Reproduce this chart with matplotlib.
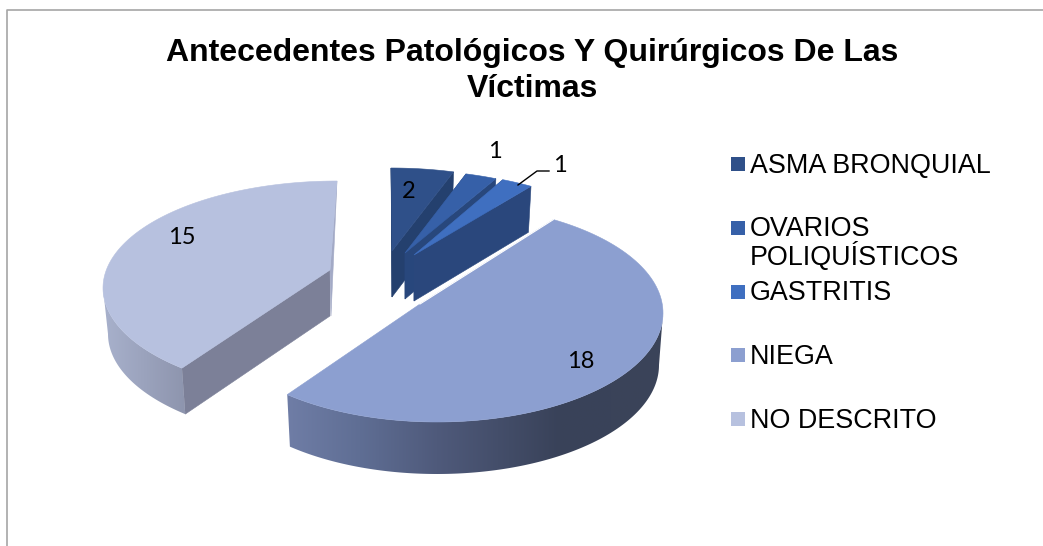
import numpy as np
import matplotlib
matplotlib.use("Agg")
import matplotlib.pyplot as plt
from matplotlib.patches import Polygon, Rectangle
from matplotlib.colors import to_rgb

categories = ["ASMA BRONQUIAL", "OVARIOS\nPOLIQUÍSTICOS", "GASTRITIS", "NIEGA", "NO DESCRITO"]
values = [2, 1, 1, 18, 15]
top_colors = ["#2f5089", "#3660a8", "#3f6fc0", "#8c9fd0", "#b7c1df"]
title = "Antecedentes Patológicos Y Quirúrgicos De Las\nVíctimas"

W, H = 1043, 546
fig = plt.figure(figsize=(W / 100, H / 100), dpi=100)
ax = fig.add_axes([0, 0, 1, 1])
ax.axis("off")

# chart frame (its right and bottom sides fall outside the crop)
ax.plot([7, 7, 1043], [546, 10, 10], color="#a6a6a6", lw=1.2)

# cumulative angles, clockwise from 12 o'clock, with the 3D view's foreshortening
total = sum(values)
edges = np.cumsum([0] + values) / total * 360
true_knots = [0, edges[3], edges[4], 360]
view_knots = [0, 31, 221.5, 360]
def view_angle(a):
    return np.interp(a, true_knots, view_knots)
def true_angle(t):
    return np.interp(t, view_knots, true_knots)

# per slice geometry of the exploded 3D view:
# ellipse cx, cy, rx, ry, apex x, y, wall height, rim shrink
geom = [
    (391, 275, 234, 107, 392, 251, 46, 5),
    (403.5, 277, 234, 107, 405, 253, 46, 5),
    (410.5, 278, 234, 107, 414, 255, 46, 5),
    (437, 313, 226, 109, 420, 304, 52, 4),
    (337, 288, 234, 107, 330, 270, 46, 5),
]
wall_flat = ["#24406e", "#28477c", "#2a477c", "#3a4358", "#7c8098"]

def arc(g, a0, a1, n=120, lower=False):
    cx, cy, rx, ry, _, _, h, s = g
    t = np.radians(np.linspace(view_angle(a0), view_angle(a1), n))
    if lower:
        return cx + (rx - s) * np.sin(t), cy + h - ry * np.cos(t)
    return cx + rx * np.sin(t), cy - ry * np.cos(t)

def rim_gradient(g, a0, a1, stops):
    xs, ys = arc(g, a0, a1, 160)
    xl, yl = arc(g, a0, a1, 160, lower=True)
    pts = list(zip(xs, ys)) + list(zip(xl[::-1], yl[::-1]))
    x0, x1 = min(min(xs), min(xl)), max(max(xs), max(xl))
    sx = [p[0] for p in stops]
    sc = np.array([to_rgb(p[1]) for p in stops])
    grid = np.linspace(x0, x1, 256)
    img = np.stack([np.interp(grid, sx, sc[:, k]) for k in range(3)], axis=-1)[None, :, :]
    y0, y1 = min(min(ys), min(yl)), max(max(ys), max(yl))
    clip = Polygon(pts, closed=True, fc="none", ec="none", transform=ax.transData)
    ax.add_patch(clip)
    im = ax.imshow(img, extent=(x0, x1, y1, y0), aspect="auto", interpolation="bilinear", zorder=1)
    im.set_clip_path(clip)

def flat_wall(g, a, col):
    x0, y0 = arc(g, a, a, 1)
    x1, y1 = arc(g, a, a, 1, lower=True)
    ax.add_patch(Polygon([(x0[0], y0[0]), (g[4], g[5]), (g[4], g[5] + g[6]), (x1[0], y1[0])],
                         closed=True, fc=col, ec=col, lw=0.4, zorder=1))

def top_face(g, a0, a1, col, z=1.5):
    xs, ys = arc(g, a0, a1)
    pts = list(zip(xs, ys)) + [(g[4], g[5])]
    ax.add_patch(Polygon(pts, closed=True, fc=col, ec=col, lw=0.4, zorder=z))

# NO DESCRITO
g = geom[4]
flat_wall(g, edges[4], wall_flat[4])
x0, y0 = arc(g, 360, 360, 1)
ax.add_patch(Polygon([(x0[0], y0[0]), (g[4], g[5]), (g[4] + 1, g[5] + g[6])],
                     closed=True, fc="#a3aac6", ec="#a3aac6", lw=0.4, zorder=1))
rim_gradient(g, edges[4], true_angle(270), [(103, "#a8b1cc"), (184, "#8e95ae")])
top_face(g, edges[4], 360, top_colors[4])

# small dark slices
for i in range(3):
    g = geom[i]
    flat_wall(g, edges[i + 1], wall_flat[i])
    x0, y0 = arc(g, edges[i], edges[i], 1)
    ax.add_patch(Polygon([(x0[0], y0[0]), (g[4], g[5]), (g[4], g[5] + g[6])],
                         closed=True, fc=wall_flat[i], ec=wall_flat[i], lw=0.4, zorder=1))
    top_face(g, edges[i], edges[i + 1], top_colors[i])

# NIEGA
g = geom[3]
rim_gradient(g, true_angle(90), edges[4],
             [(288, "#6f7da6"), (360, "#5f6e94"), (437, "#4f5a7b"), (560, "#394259"), (663, "#3b4459")])
top_face(g, edges[3], edges[4], top_colors[3], z=2)
xa, ya = arc(g, edges[3], edges[3], 1)
ax.plot([xa[0], g[4]], [ya[0], g[5]], color="white", lw=0.8, zorder=2.1)

ax.set_xlim(0, W)
ax.set_ylim(H, 0)

# data labels
lab = dict(family=["Lato", "DejaVu Sans"], fontsize=17, color="black", ha="center", va="center", zorder=5)
label_pos = [(409, 191), (495, 152), (560, 165), (581, 362), (182, 238)]
for v, (x, y) in zip(values, label_pos):
    ax.text(x, y, str(v), **lab)
ax.plot([518, 537, 549], [185, 171, 171], color="black", lw=1, zorder=5)

# title
ax.text(532, 71, title, family="Liberation Sans", fontweight="bold", fontsize=23,
        ha="center", va="center", linespacing=1.24, color="black")

# legend
swatch_y = [157, 221, 285, 348, 412]
text_y = [166, 244, 293, 357, 421]
for c, col, sy, ty in zip(categories, top_colors, swatch_y, text_y):
    ax.add_patch(Rectangle((731, sy), 14, 14, fc=col, ec="none"))
    ax.text(750, ty, c, family="Liberation Sans", fontsize=19.4, ha="left", va="center",
            linespacing=1.0, color="black")

fig.savefig("out.png", dpi=100)
